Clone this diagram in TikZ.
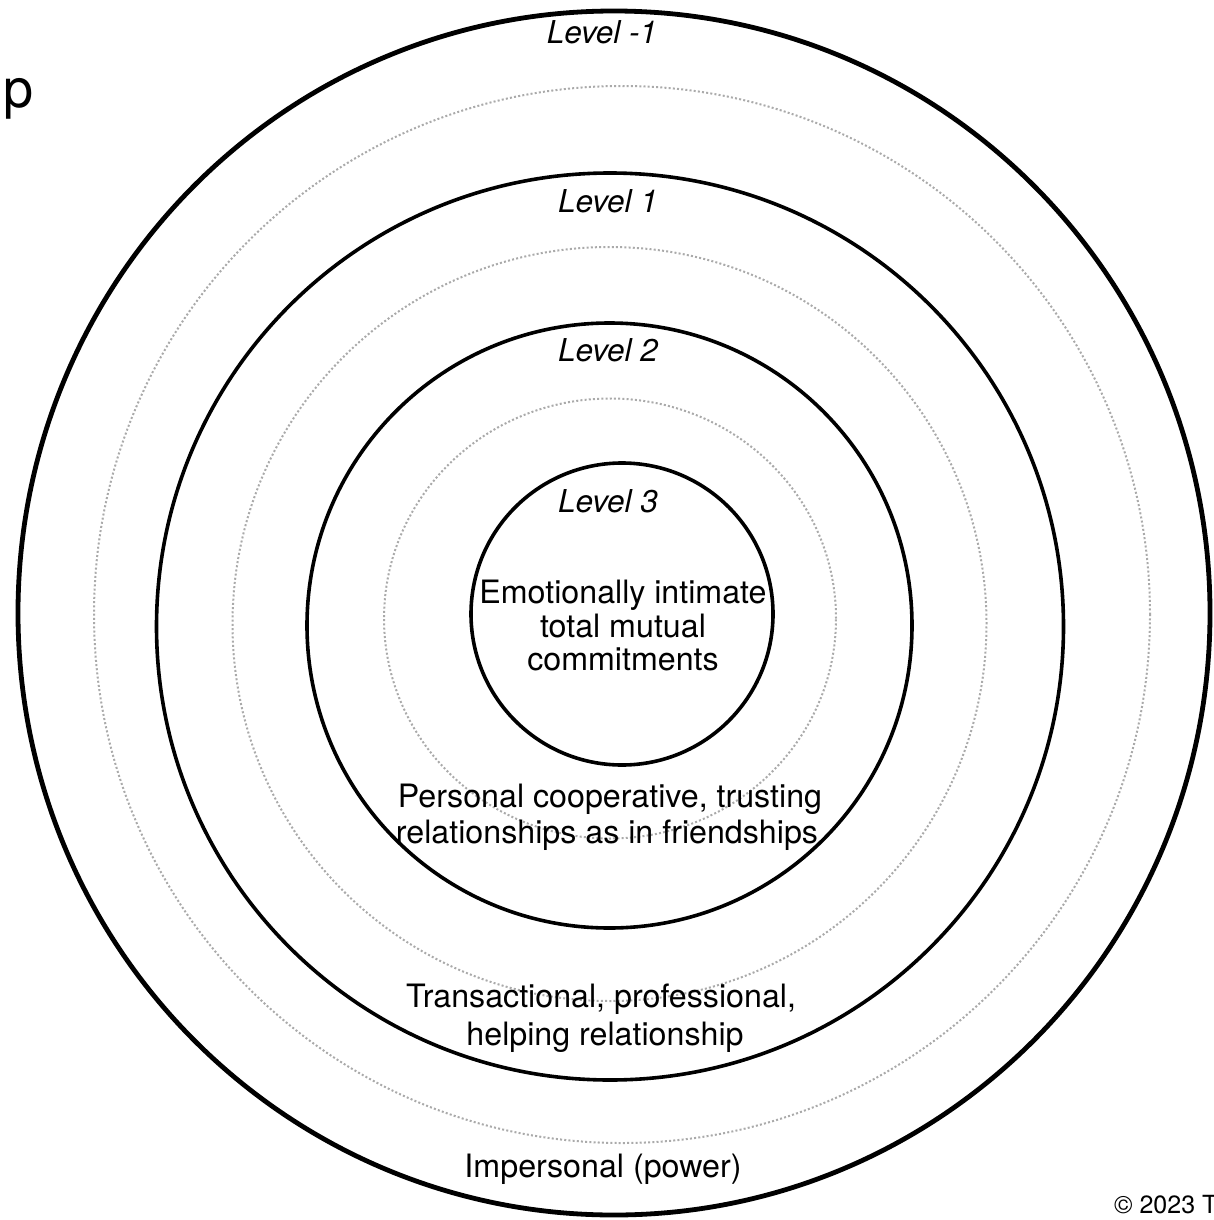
\documentclass[tikz,border=0pt]{standalone}
\usepackage{fontspec}
\setmainfont{TeX Gyre Heros}
\definecolor{ringgray}{RGB}{170,170,170}
\begin{document}
\begin{tikzpicture}[x=1pt,y=-1pt,
  ring/.style={draw=black,line width=3.6pt},
  outerring/.style={draw=black,line width=4.8pt},
  dotring/.style={draw=ringgray,line width=2pt,dash pattern=on 2pt off 2.2pt},
  lvl/.style={font=\fontsize{31.5}{34}\selectfont\itshape,anchor=base,inner sep=0pt},
  body/.style={font=\fontsize{32.2}{34}\selectfont,anchor=base,inner sep=0pt}]
\useasboundingbox (0,0) rectangle (1214,1220);
% rings
\draw[outerring] (614,613) ellipse [x radius=596pt, y radius=602pt];
\draw[dotring]   (622,614.5) ellipse [x radius=528pt, y radius=528.5pt];
\draw[ring]      (610,626.5) circle [radius=453.5pt];
\draw[dotring]   (609.5,624) circle [radius=377pt];
\draw[ring]      (609.5,625.5) circle [radius=302.5pt];
\draw[dotring]   (610,618.5) ellipse [x radius=226pt, y radius=220pt];
\draw[ring]      (622,614) circle [radius=151pt];
% level labels
\node[lvl] (lm1) at (602,44)  {Level -1};
\node[lvl] (l1)  at (608,212) {Level 1};
\node[lvl] (l2)  at (608,361) {Level 2};
\node[lvl] (l3)  at (608,512) {Level 3};
% descriptions
\node[body] (d3a) at (623,603) {Emotionally intimate};
\node[body] (d3b) at (623,637) {total mutual};
\node[body] (d3c) at (623,670) {commitments};
\node[body] (d2a) at (610,807) {Personal cooperative, trusting};
\node[body] (d2b) at (607,843) {relationships as in friendships};
\node[body] (d1a) at (601,1007) {Transactional, professional,};
\node[body] (d1b) at (605,1045) {helping relationship};
\node[body] (d0)  at (603,1177) {Impersonal (power)};
% cut-off title and copyright
\node[font=\fontsize{54}{60}\selectfont,anchor=base west,inner sep=0pt] (title) at (3,108) {p};
\node[font=\fontsize{25}{28}\selectfont,anchor=base west,inner sep=0pt] (copy) at (1114,1213) {© 2023 T};
\end{tikzpicture}
\end{document}
